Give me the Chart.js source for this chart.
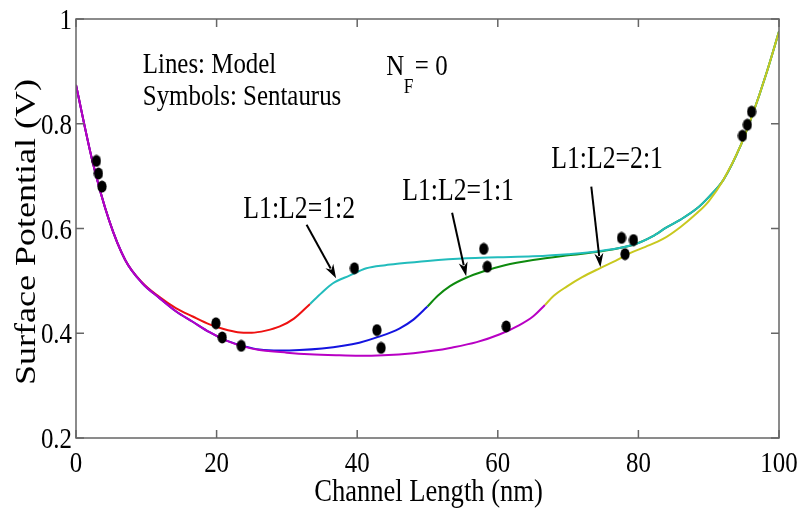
<!DOCTYPE html>
<html>
<head>
<meta charset="utf-8">
<script src="https://cdn.jsdelivr.net/npm/chart.js@4.4.0/dist/chart.umd.min.js"></script>
<style>
  body { margin: 0; background: #fff; }
  #wrap { width: 800px; height: 516px; position: relative; }
</style>
</head>
<body>
<div id="wrap"><canvas id="chart"></canvas></div>
<script>
// axis ticks
const xTicks = [0, 20, 40, 60, 80, 100];
const xTickLabels = ['0', '20', '40', '60', '80', '100'];
const yTicks = [0.2, 0.4, 0.6, 0.8, 1];
const yTickLabels = ['0.2', '0.4', '0.6', '0.8', '1'];

// model, L1:L2 = 2:1 (gate 1 part, magenta)
const x21a = [0, 2.3, 4.7, 7, 9.4, 11.8, 14.2, 16.6, 19, 21.4, 24, 26.1, 30, 33.2, 37, 40.3, 43.7, 48, 51, 53.2, 57, 60.3, 63, 65, 66.7];
const y21a = [0.874, 0.731, 0.616, 0.540, 0.496, 0.468, 0.442, 0.422, 0.402, 0.386, 0.374, 0.368, 0.363, 0.360, 0.358, 0.357, 0.358, 0.362, 0.367, 0.372, 0.383, 0.398, 0.415, 0.432, 0.454];
// model, L1:L2 = 2:1 (gate 2 part, yellow)
const x21b = [66.7, 68, 69.8, 72, 74.5, 77, 78.8, 81, 83.5, 86, 88.3, 90, 92.1, 94.6, 96.3, 98.2, 100];
const y21b = [0.454, 0.472, 0.489, 0.507, 0.524, 0.540, 0.553, 0.565, 0.580, 0.603, 0.629, 0.652, 0.693, 0.760, 0.820, 0.896, 0.976];

// model, L1:L2 = 1:1 (blue, green)
const x11a = [0, 2.3, 4.7, 7, 9.4, 11.8, 14.2, 16.6, 19, 21.4, 24, 26.1, 29, 31.8, 35, 38, 40.3, 43, 46, 48, 50];
const y11a = [0.874, 0.731, 0.616, 0.540, 0.496, 0.468, 0.442, 0.422, 0.402, 0.386, 0.375, 0.369, 0.367, 0.368, 0.371, 0.376, 0.382, 0.393, 0.409, 0.426, 0.451];
const x11b = [50, 51.5, 53.2, 55.5, 57.9, 61, 65, 70, 74.5, 79.5, 82, 84, 86, 88.3, 90, 92.1, 94.6, 96.3, 98.2, 100];
const y11b = [0.451, 0.472, 0.490, 0.506, 0.518, 0.530, 0.540, 0.549, 0.556, 0.570, 0.585, 0.602, 0.617, 0.638, 0.660, 0.693, 0.760, 0.820, 0.896, 0.976];

// model, L1:L2 = 1:2 (red, cyan)
const x12a = [0, 2.3, 4.7, 7, 9.4, 11.8, 14.2, 16.6, 19, 21, 23, 25, 27, 29, 31, 33.3];
const y12a = [0.874, 0.731, 0.616, 0.540, 0.497, 0.470, 0.448, 0.432, 0.417, 0.408, 0.402, 0.401, 0.405, 0.413, 0.428, 0.456];
const x12b = [33.3, 35, 36.5, 38.9, 41.3, 44, 46, 50, 55.5, 60, 65, 70, 74.5, 79.5, 82, 84, 86, 88.3, 90, 92.1, 94.6, 96.3, 98.2, 100];
const y12b = [0.456, 0.478, 0.495, 0.510, 0.524, 0.530, 0.533, 0.538, 0.543, 0.545, 0.547, 0.551, 0.557, 0.570, 0.585, 0.602, 0.617, 0.638, 0.660, 0.693, 0.760, 0.820, 0.896, 0.976];

// Sentaurus simulation points
const xSim = [2.9, 3.2, 3.7, 19.9, 20.8, 23.5, 39.6, 42.8, 43.4, 58.0, 58.5, 61.2, 77.6, 78.1, 79.3, 94.8, 95.5, 96.1];
const ySim = [0.729, 0.705, 0.680, 0.419, 0.392, 0.376, 0.524, 0.406, 0.372, 0.561, 0.527, 0.413, 0.582, 0.551, 0.578, 0.777, 0.798, 0.823];

// text notes and arrows, in data units
const notes = [
  { text: 'Lines: Model', x: 9.5, y: 0.896, size: 30 },
  { text: 'Symbols: Sentaurus', x: 9.5, y: 0.836, size: 30 },
  { text: 'L1:L2=1:2', x: 23.8, y: 0.620, size: 31 },
  { text: 'L1:L2=1:1', x: 46.4, y: 0.655, size: 31 },
  { text: 'L1:L2=2:1', x: 67.6, y: 0.716, size: 31 }
];
const arrows = [
  [32.8, 0.607, 37.0, 0.505],
  [53.5, 0.630, 55.5, 0.509],
  [73.3, 0.680, 74.6, 0.526]
];

const SX = 0.83; // narrow serif text
const FONT = '"Liberation Serif", "Times New Roman", serif';

function pts(xs, ys) {
  return xs.map((x, i) => ({ x: x, y: ys[i] }));
}

// filled ellipse marker
const dot = document.createElement('canvas');
dot.width = 10; dot.height = 13;
(function () {
  const c = dot.getContext('2d');
  c.fillStyle = '#000';
  c.beginPath();
  c.ellipse(5, 6.5, 4.6, 6, 0, 0, Math.PI * 2);
  c.fill();
})();

function line(label, data, color) {
  return {
    label: label,
    data: data,
    borderColor: color,
    borderWidth: 2,
    pointRadius: 0,
    fill: false,
    cubicInterpolationMode: 'monotone',
    showLine: true
  };
}

function txt(ctx, s, x, y, size, align) {
  ctx.save();
  ctx.translate(x, y);
  ctx.scale(SX, 1);
  ctx.font = size + 'px ' + FONT;
  ctx.textAlign = align || 'left';
  ctx.textBaseline = 'alphabetic';
  ctx.fillStyle = '#000';
  ctx.fillText(s, 0, 0);
  ctx.restore();
}

const decor = {
  id: 'decor',
  afterDraw(chart) {
    const ctx = chart.ctx;
    const xs = chart.scales.x, ys = chart.scales.y;
    const a = chart.chartArea;

    // frame and inner ticks
    ctx.save();
    ctx.strokeStyle = '#666';
    ctx.lineWidth = 1.5;
    ctx.strokeRect(a.left, a.top, a.right - a.left, a.bottom - a.top);
    ctx.beginPath();
    xTicks.forEach(v => {
      const p = xs.getPixelForValue(v);
      ctx.moveTo(p, a.bottom); ctx.lineTo(p, a.bottom - 8);
      ctx.moveTo(p, a.top); ctx.lineTo(p, a.top + 8);
    });
    yTicks.forEach(v => {
      const p = ys.getPixelForValue(v);
      ctx.moveTo(a.left, p); ctx.lineTo(a.left + 8, p);
      ctx.moveTo(a.right, p); ctx.lineTo(a.right - 8, p);
    });
    ctx.stroke();
    ctx.restore();

    // tick labels
    xTicks.forEach((v, i) => txt(ctx, xTickLabels[i], xs.getPixelForValue(v), a.bottom + 34, 30, 'center'));
    yTicks.forEach((v, i) => txt(ctx, yTickLabels[i], a.left - 4, ys.getPixelForValue(v) + 10, 30, 'right'));

    // axis titles
    txt(ctx, 'Channel Length (nm)', (a.left + a.right) / 2 + 1, a.bottom + 63, 32, 'center');
    ctx.save();
    ctx.translate(35, 232);
    ctx.scale(SX, 1);
    ctx.rotate(-Math.PI / 2);
    ctx.font = '36px ' + FONT;
    ctx.textAlign = 'center';
    ctx.fillStyle = '#000';
    ctx.fillText('Surface Potential (V)', 0, 0);
    ctx.restore();

    // notes
    notes.forEach(n => txt(ctx, n.text, xs.getPixelForValue(n.x), ys.getPixelForValue(n.y), n.size, 'left'));
    const nx = xs.getPixelForValue(44.15), ny = ys.getPixelForValue(0.893);
    txt(ctx, 'N', nx, ny, 30, 'left');
    txt(ctx, 'F', nx + 17.5, ny + 18, 21, 'left');
    txt(ctx, '= 0', nx + 28.5, ny, 30, 'left');

    // arrows
    ctx.save();
    ctx.strokeStyle = '#000';
    ctx.fillStyle = '#000';
    ctx.lineWidth = 2;
    arrows.forEach(r => {
      const x0 = xs.getPixelForValue(r[0]), y0 = ys.getPixelForValue(r[1]);
      const x1 = xs.getPixelForValue(r[2]), y1 = ys.getPixelForValue(r[3]);
      const ang = Math.atan2(y1 - y0, x1 - x0);
      const L = 14, W = 4.5;
      ctx.beginPath();
      ctx.moveTo(x0, y0);
      ctx.lineTo(x1 - Math.cos(ang) * L * 0.8, y1 - Math.sin(ang) * L * 0.8);
      ctx.stroke();
      ctx.beginPath();
      ctx.moveTo(x1, y1);
      ctx.lineTo(x1 - Math.cos(ang) * L - Math.sin(ang) * W, y1 - Math.sin(ang) * L + Math.cos(ang) * W);
      ctx.lineTo(x1 - Math.cos(ang) * L * 0.7, y1 - Math.sin(ang) * L * 0.7);
      ctx.lineTo(x1 - Math.cos(ang) * L + Math.sin(ang) * W, y1 - Math.sin(ang) * L - Math.cos(ang) * W);
      ctx.closePath();
      ctx.fill();
    });
    ctx.restore();
  }
};

new Chart(document.getElementById('chart').getContext('2d'), {
  type: 'scatter',
  data: {
    datasets: [
      {
        label: 'Sentaurus',
        data: pts(xSim, ySim),
        pointStyle: dot,
        pointRadius: 5,
        showLine: false
      },
      line('2:1 gate 1', pts(x21a, y21a), '#b800c4'),
      line('2:1 gate 2', pts(x21b, y21b), '#c8c81e'),
      line('1:2 gate 2', pts(x12b, y12b), '#22bcbc'),
      line('1:1 gate 2', pts(x11b, y11b), '#0e8a0e'),
      line('1:1 gate 1', pts(x11a, y11a), '#1414e0'),
      line('1:2 gate 1', pts(x12a, y12a), '#ee1111')
    ]
  },
  plugins: [decor],
  options: {
    responsive: true,
    maintainAspectRatio: false,
    animation: false,
    layout: { padding: { left: 76, right: 21, top: 19, bottom: 78 } },
    plugins: { legend: { display: false }, tooltip: { enabled: false } },
    scales: {
      x: { type: 'linear', min: 0, max: 100, display: false },
      y: { type: 'linear', min: 0.2, max: 1, display: false }
    }
  }
});
</script>
</body>
</html>
